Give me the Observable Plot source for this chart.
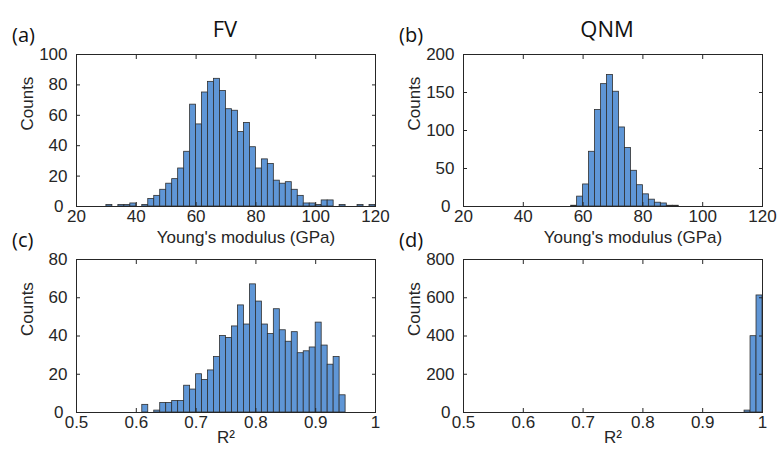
<!DOCTYPE html>
<html><head><meta charset="utf-8">
<script src="https://cdn.jsdelivr.net/npm/d3@7"></script>
<script src="https://cdn.jsdelivr.net/npm/@observablehq/plot@0.6"></script>
<style>
body{margin:0;background:#fff;}
#fig{position:relative;width:777px;height:450px;overflow:hidden;background:#fff}
.panel{position:absolute}
#overlay{position:absolute;left:0;top:0;pointer-events:none}
</style></head>
<body>
<div id="fig"></div>
<script>
// ---- data ----
const modBinWidth = 2;
const r2BinWidth = 0.01;

const fvModBins = [30,32,34,36,38,40,42,44,46,48,50,52,54,56,58,60,62,64,66,68,70,72,74,76,78,80,82,84,86,88,90,92,94,96,98,100,102,104,106,108,110,112,114,116,118];
const fvModCounts = [1,0,1,1,2,0,1,5,7,11,15,18,25,36,67,54,75,82,84,76,64,63,49,55,39,25,31,28,17,15,16,11,7,2,2,1,4,4,0,1,0,0,1,0,1];

const qnmModBins = [56,58,60,62,64,66,68,70,72,74,76,78,80,82,84,86,88,90];
const qnmModCounts = [1,13,29,72,127,161,173,151,104,77,47,28,16,9,5,4,1,1];

const fvR2Bins = [0.60,0.61,0.62,0.63,0.64,0.65,0.66,0.67,0.68,0.69,0.70,0.71,0.72,0.73,0.74,0.75,0.76,0.77,0.78,0.79,0.80,0.81,0.82,0.83,0.84,0.85,0.86,0.87,0.88,0.89,0.90,0.91,0.92,0.93,0.94];
const fvR2Counts = [0,4,0,1,5,5,6,6,14,12,20,17,22,29,40,39,45,56,46,67,58,46,41,54,43,37,42,31,32,34,47,35,25,29,9];

const qnmR2Bins = [0.97,0.98,0.99];
const qnmR2Counts = [10,399,612];

const modTicks = [20,40,60,80,100,120];
const modTickLabels = ["20","40","60","80","100","120"];
const r2Ticks = [0.5,0.6,0.7,0.8,0.9,1];
const r2TickLabels = ["0.5","0.6","0.7","0.8","0.9","1"];

const yTicksA = [0,20,40,60,80,100];
const yTicksB = [0,50,100,150,200];
const yTicksC = [0,20,40,60,80];
const yTicksD = [0,200,400,600,800];

const titles = ["FV","QNM"];
const tags = ["(a)","(b)","(c)","(d)"];
const modLabel = "Young's modulus (GPa)";
const r2Label = "R\u00B2";
const countLabel = "Counts";

// ---- drawing ----
const ink = "#262626";
const barFill = "#5f96d6";

function rows(bins, counts, w) {
  return bins.map((b, i) => ({x1: b, x2: b + w, count: counts[i]}));
}

function panel({data, xDomain, xTicks, xTickLabels, yTicks, xLabel, xLabelDx, xLabelDy, height, marginBottom}) {
  const fmt = d => xTickLabels[xTicks.indexOf(d)];
  return Plot.plot({
    width: 388, height,
    marginLeft: 76, marginRight: 13, marginTop: 10, marginBottom,
    style: {fontFamily: "'Liberation Sans', Arial, sans-serif", fontSize: "17px", color: ink, background: "transparent", overflow: "visible"},
    x: {domain: xDomain},
    y: {domain: [yTicks[0], yTicks[yTicks.length - 1]]},
    marks: [
      Plot.rectY(data, {x1: "x1", x2: "x2", y: "count", fill: barFill, stroke: "#2e2e2e", strokeWidth: 0.8}),
      Plot.frame({stroke: ink, strokeWidth: 1}),
      Plot.axisX(xTicks, {anchor: "bottom", tickSize: -4, tickPadding: 7, tickFormat: fmt, label: null}),
      Plot.axisX(xTicks, {anchor: "top", tickSize: -4, tickFormat: () => "", label: null}),
      Plot.axisY(yTicks.slice(1), {anchor: "left", tickSize: -4, tickPadding: 13, tickFormat: d => String(d), label: null}),
      Plot.axisY(yTicks.slice(0, 1), {anchor: "left", tickSize: 0, tickPadding: 13, tickFormat: d => String(d), label: null}),
      Plot.axisY(yTicks, {anchor: "right", tickSize: -4, tickFormat: () => "", label: null}),
      Plot.text([xLabel], {frameAnchor: "bottom", text: d => d, dx: xLabelDx, dy: xLabelDy, fill: ink, fontSize: 17}),
      Plot.text([countLabel], {frameAnchor: "left", text: d => d, rotate: -90, dx: -49, fill: ink, fontSize: 17})
    ]
  });
}

const fig = document.getElementById("fig");
function place(el, left, top) {
  el.classList.add("panel");
  el.style.left = left + "px";
  el.style.top = top + "px";
  fig.appendChild(el);
}

place(panel({data: rows(fvModBins, fvModCounts, modBinWidth), xDomain: [20,120], xTicks: modTicks, xTickLabels: modTickLabels, yTicks: yTicksA, xLabel: modLabel, xLabelDx: 20, xLabelDy: 36, height: 210, marginBottom: 48}), 0, 44);
place(panel({data: rows(qnmModBins, qnmModCounts, modBinWidth), xDomain: [20,120], xTicks: modTicks, xTickLabels: modTickLabels, yTicks: yTicksB, xLabel: modLabel, xLabelDx: 20, xLabelDy: 36, height: 210, marginBottom: 48}), 387, 44);
place(panel({data: rows(fvR2Bins, fvR2Counts, r2BinWidth), xDomain: [0.5,1], xTicks: r2Ticks, xTickLabels: r2TickLabels, yTicks: yTicksC, xLabel: r2Label, xLabelDx: 0, xLabelDy: 30.5, height: 201, marginBottom: 38}), 0, 249);
place(panel({data: rows(qnmR2Bins, qnmR2Counts, r2BinWidth), xDomain: [0.5,1], xTicks: r2Ticks, xTickLabels: r2TickLabels, yTicks: yTicksD, xLabel: r2Label, xLabelDx: 0, xLabelDy: 30.5, height: 201, marginBottom: 38}), 387, 249);

// titles and panel tags
const svg = d3.select(fig).append("svg").attr("id", "overlay").attr("width", 777).attr("height", 450)
  .style("font-family", "'Open Sans', 'Noto Sans', sans-serif").style("fill", "#111");
svg.selectAll("text.title").data(titles).join("text").attr("class", "title")
  .attr("x", (d, i) => [225, 607][i]).attr("y", 37).attr("text-anchor", "middle").attr("font-size", 22).text(d => d);
svg.selectAll("text.tag").data(tags).join("text").attr("class", "tag")
  .attr("x", (d, i) => [12, 399, 12, 399][i]).attr("y", (d, i) => [42, 42, 247, 247][i]).attr("font-size", 20).text(d => d);
</script>
</body></html>
